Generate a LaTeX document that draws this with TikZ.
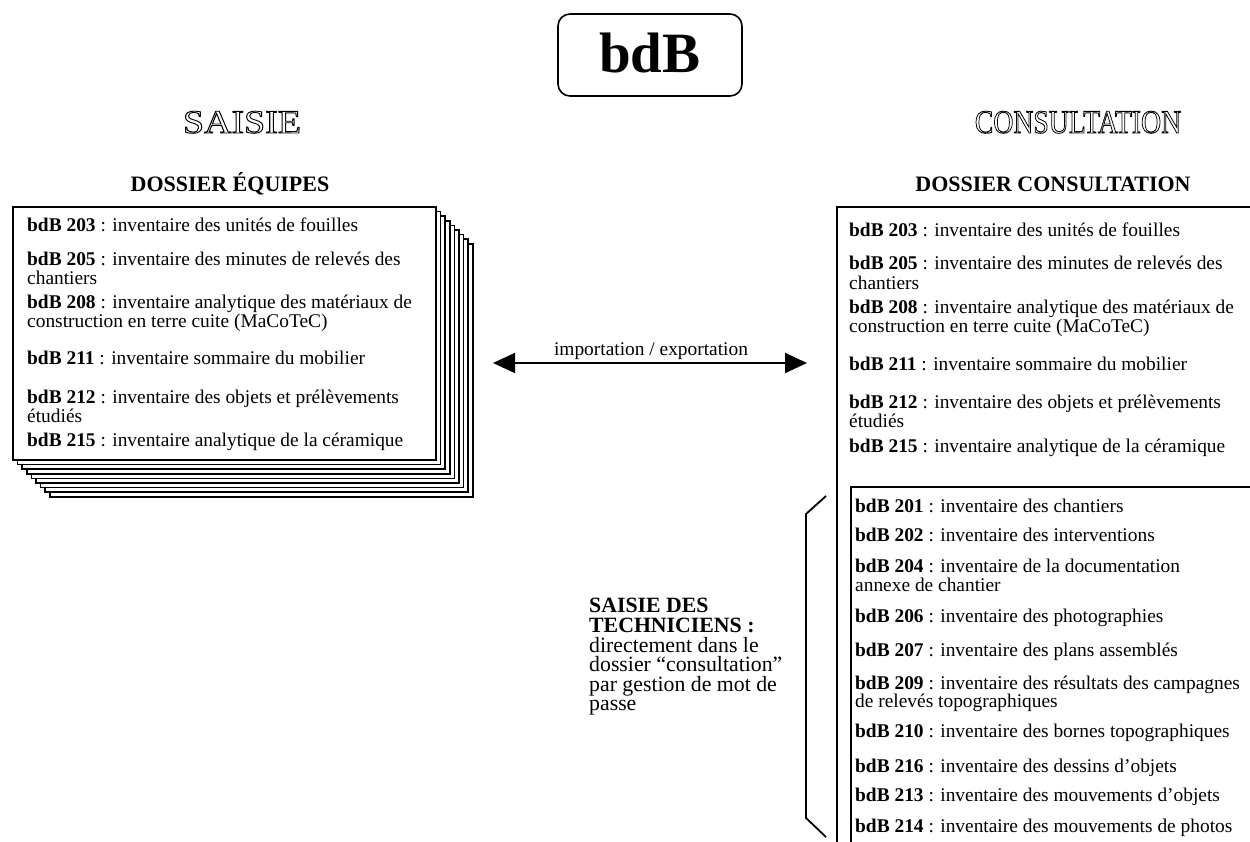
\documentclass[tikz,border=0pt]{standalone}
\usepackage{fontspec}
\setmainfont{Liberation Serif}
\usepackage{graphicx}
\usetikzlibrary{arrows.meta}
\tikzset{
  body/.style={anchor=base west, inner sep=0pt, font=\fontsize{19.4}{19.4}\selectfont},
  tech/.style={anchor=base west, inner sep=0pt, font=\fontsize{21.8}{19}\selectfont},
  techb/.style={anchor=base west, inner sep=0pt, font=\bfseries\fontsize{21.8}{19}\selectfont},
  sheet/.style={draw=black, line width=1.6pt, fill=white},
  frame/.style={draw=black, line width=1.8pt},
  heading/.style={anchor=base, inner sep=0pt, font=\bfseries\fontsize{22}{22}\selectfont},
  outl/.style={anchor=base, inner sep=0pt, font=\fontsize{33}{33}\selectfont},
  conn/.style={line width=1.8pt, {Triangle[length=22pt,width=20pt]}-{Triangle[length=22pt,width=20pt]}},
}
\newcommand{\bdb}[1]{\textbf{bdB #1}}
\newcommand{\hollow}[1]{\special{pdf:literal direct 1 Tr 0.9 w}#1\special{pdf:literal direct 0 Tr}}
\begin{document}
\begin{tikzpicture}[x=1pt,y=-1pt]
\useasboundingbox (0,0) rectangle (1250,841);
\clip (0,0) rectangle (1250,841);
\fill[white] (0,0) rectangle (1250,841);

% title
\node[draw, line width=1.6pt, rounded corners=12pt, minimum width=184pt, minimum height=82pt, inner sep=0pt] (titlebox) at (650,55) {};
\node[anchor=base, inner sep=0pt, font=\bfseries\fontsize{57}{57}\selectfont] (titletext) at (650,72) {bdB};

% outlined headings
\node[outl] (saisie) at (242,133) {\scalebox{1.15}[1]{\hollow{SAISIE}}};
\node[outl] (consult) at (1078,133) {\scalebox{0.84}[1]{\hollow{CONSULTATION}}};

\node[heading] (hequipes) at (230,191) {DOSSIER ÉQUIPES};
\node[heading] (hconsult) at (1053,191) {DOSSIER CONSULTATION};

% stack of sheets
\foreach \k in {8,7,...,1} {
  \draw[sheet] ({13+4.6*\k},{207+4.6*\k}) rectangle ({436+4.6*\k},{460+4.6*\k});
}
\draw[sheet] (13,207) rectangle (436,460);

\node[body] (l1) at (27,231) {\bdb{203} : inventaire des unités de fouilles};
\node[body] (l2) at (27,265) {\bdb{205} : inventaire des minutes de relevés des};
\node[body] (l2b) at (27,284) {chantiers};
\node[body] (l3) at (27,308) {\bdb{208} : inventaire analytique des matériaux de};
\node[body] (l3b) at (27,327) {construction en terre cuite (MaCoTeC)};
\node[body] (l4) at (27,364) {\bdb{211} : inventaire sommaire du mobilier};
\node[body] (l5) at (27,403) {\bdb{212} : inventaire des objets et prélèvements};
\node[body] (l5b) at (27,422) {étudiés};
\node[body] (l6) at (27,446) {\bdb{215} : inventaire analytique de la céramique};

% right frames
\draw[frame] (1270,207) -- (837,207) -- (837,860);
\draw[frame] (1270,487) -- (851,487) -- (851,860);

\node[body] (r1) at (849,236) {\bdb{203} : inventaire des unités de fouilles};
\node[body] (r2) at (849,269) {\bdb{205} : inventaire des minutes de relevés des};
\node[body] (r2b) at (849,289) {chantiers};
\node[body] (r3) at (849,313) {\bdb{208} : inventaire analytique des matériaux de};
\node[body] (r3b) at (849,332) {construction en terre cuite (MaCoTeC)};
\node[body] (r4) at (849,370) {\bdb{211} : inventaire sommaire du mobilier};
\node[body] (r5) at (849,408) {\bdb{212} : inventaire des objets et prélèvements};
\node[body] (r5b) at (849,427) {étudiés};
\node[body] (r6) at (849,452) {\bdb{215} : inventaire analytique de la céramique};

\node[body] (t1) at (855,512) {\bdb{201} : inventaire des chantiers};
\node[body] (t2) at (855,541) {\bdb{202} : inventaire des interventions};
\node[body] (t3) at (855,572) {\bdb{204} : inventaire de la documentation};
\node[body] (t3b) at (855,591) {annexe de chantier};
\node[body] (t4) at (855,622) {\bdb{206} : inventaire des photographies};
\node[body] (t5) at (855,656) {\bdb{207} : inventaire des plans assemblés};
\node[body] (t6) at (855,689) {\bdb{209} : inventaire des résultats des campagnes};
\node[body] (t6b) at (855,707) {de relevés topographiques};
\node[body] (t7) at (855,737) {\bdb{210} : inventaire des bornes topographiques};
\node[body] (t8) at (855,772) {\bdb{216} : inventaire des dessins d’objets};
\node[body] (t9) at (855,801) {\bdb{213} : inventaire des mouvements d’objets};
\node[body] (t10) at (855,832) {\bdb{214} : inventaire des mouvements de photos};

% bracket
\draw[line width=1.8pt] (826,496) -- (806,514) -- (806,818) -- (826,837);

% technicians text
\node[techb] (s1) at (589,612) {SAISIE DES};
\node[techb] (s2) at (589,632) {TECHNICIENS :};
\node[tech] (s3) at (589,652) {directement dans le};
\node[tech] (s4) at (589,671.5) {dossier “consultation”};
\node[tech] (s5) at (589,691) {par gestion de mot de};
\node[tech] (s6) at (589,710.5) {passe};

% arrow
\coordinate (aL) at (493,363);
\coordinate (aR) at (807,363);
\draw[conn] (aL) -- (aR);
\node[anchor=base, inner sep=0pt, font=\fontsize{19.4}{19.4}\selectfont] (alabel) at (651,355) {importation / exportation};
\end{tikzpicture}
\end{document}
